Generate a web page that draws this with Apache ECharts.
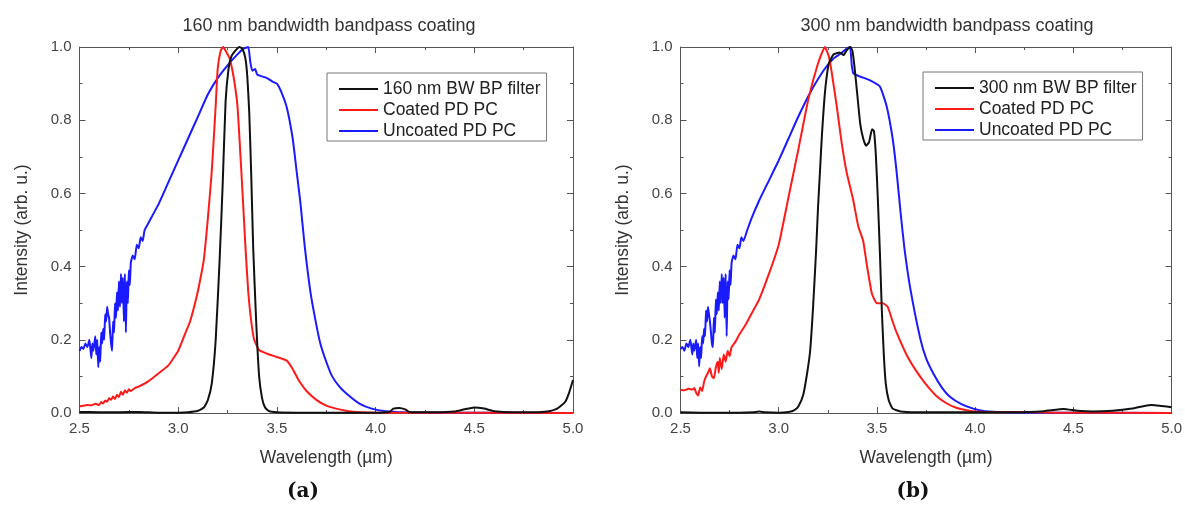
<!DOCTYPE html>
<html>
<head>
<meta charset="utf-8">
<script src="https://cdn.jsdelivr.net/npm/echarts@6/dist/echarts.min.js"></script>
<style>
html,body{margin:0;padding:0;background:#fff;}
#c{width:1185px;height:509px;}
</style>
</head>
<body>
<div id="c"></div>
<script>
// ---------- data ----------
const titles = ['160 nm bandwidth bandpass coating', '300 nm bandwidth bandpass coating'];
const captions = ['a', 'b'];
const xTicks = [2.5, 3.0, 3.5, 4.0, 4.5, 5.0];
const yTicks = [0.0, 0.2, 0.4, 0.6, 0.8, 1.0];
const namesA = ['160 nm BW BP filter', 'Coated PD PC', 'Uncoated PD PC'];
const namesB = ['300 nm BW BP filter', 'Coated PD PC', 'Uncoated PD PC'];

// panel (a)
const filterA = [[2.5,0.003],[2.6,0.002],[2.7,0.002],[2.8,0.003],[2.9,0.001],[3.0,0.001],[3.05,0.002],[3.1,0.006],[3.13,0.015],[3.15,0.035],[3.17,0.08],[3.19,0.2],[3.21,0.42],[3.225,0.62],[3.24,0.85],[3.255,0.94],[3.27,0.975],[3.29,0.99],[3.31,1.0],[3.325,0.995],[3.34,0.97],[3.35,0.92],[3.36,0.82],[3.37,0.65],[3.38,0.45],[3.395,0.25],[3.41,0.1],[3.425,0.04],[3.44,0.015],[3.46,0.005],[3.5,0.002],[3.6,0.001],[4.0,0.001],[4.07,0.003],[4.09,0.012],[4.12,0.014],[4.15,0.01],[4.17,0.003],[4.3,0.002],[4.4,0.004],[4.45,0.01],[4.5,0.015],[4.55,0.012],[4.6,0.005],[4.7,0.002],[4.8,0.002],[4.87,0.004],[4.92,0.012],[4.96,0.03],[4.98,0.055],[5.0,0.09]];
const coatedA = [[2.5,0.018],[2.52,0.02],[2.54,0.022],[2.56,0.021],[2.58,0.025],[2.6,0.022],[2.61,0.03],[2.62,0.026],[2.63,0.034],[2.64,0.031],[2.65,0.04],[2.66,0.036],[2.67,0.045],[2.68,0.038],[2.69,0.05],[2.7,0.044],[2.71,0.058],[2.72,0.05],[2.73,0.062],[2.74,0.055],[2.75,0.065],[2.76,0.06],[2.78,0.068],[2.8,0.072],[2.85,0.087],[2.9,0.108],[2.95,0.13],[3.0,0.17],[3.03,0.21],[3.06,0.25],[3.09,0.31],[3.11,0.36],[3.13,0.42],[3.15,0.53],[3.17,0.66],[3.19,0.84],[3.2,0.94],[3.215,0.99],[3.228,1.0],[3.245,0.985],[3.26,0.97],[3.28,0.92],[3.3,0.84],[3.32,0.66],[3.34,0.46],[3.355,0.33],[3.37,0.25],[3.385,0.2],[3.41,0.172],[3.45,0.162],[3.5,0.153],[3.55,0.143],[3.58,0.12],[3.61,0.09],[3.65,0.06],[3.7,0.036],[3.75,0.02],[3.8,0.012],[3.85,0.006],[3.9,0.003],[4.0,0.001],[5.0,0.0]];
const uncoatedA = [[2.5,0.17],[2.51,0.18],[2.52,0.175],[2.53,0.19],[2.54,0.18],[2.55,0.2],[2.56,0.15],[2.565,0.19],[2.57,0.17],[2.58,0.21],[2.585,0.16],[2.59,0.2],[2.595,0.125],[2.6,0.18],[2.605,0.14],[2.61,0.22],[2.615,0.19],[2.62,0.23],[2.625,0.2],[2.63,0.27],[2.635,0.25],[2.64,0.29],[2.645,0.27],[2.65,0.26],[2.655,0.22],[2.66,0.19],[2.665,0.17],[2.67,0.25],[2.675,0.22],[2.68,0.3],[2.685,0.26],[2.69,0.33],[2.695,0.28],[2.7,0.36],[2.705,0.29],[2.71,0.38],[2.715,0.3],[2.72,0.37],[2.725,0.25],[2.73,0.38],[2.735,0.22],[2.74,0.36],[2.745,0.3],[2.75,0.39],[2.755,0.35],[2.76,0.41],[2.77,0.43],[2.78,0.42],[2.79,0.46],[2.8,0.45],[2.81,0.48],[2.82,0.47],[2.83,0.5],[2.85,0.52],[2.87,0.54],[2.9,0.57],[2.95,0.63],[3.0,0.69],[3.05,0.75],[3.1,0.81],[3.15,0.87],[3.2,0.915],[3.25,0.95],[3.3,0.98],[3.33,0.995],[3.355,1.0],[3.365,0.96],[3.375,0.935],[3.39,0.94],[3.4,0.925],[3.45,0.915],[3.48,0.905],[3.5,0.9],[3.52,0.88],[3.55,0.835],[3.58,0.75],[3.6,0.66],[3.62,0.57],[3.64,0.46],[3.67,0.33],[3.7,0.24],[3.72,0.19],[3.75,0.14],[3.78,0.1],[3.82,0.07],[3.87,0.045],[3.92,0.025],[3.98,0.012],[4.05,0.005],[4.15,0.002],[4.3,0.001],[5.0,0.0]];

// panel (b)
const filterB = [[2.5,0.002],[2.6,0.001],[2.7,0.001],[2.8,0.001],[2.87,0.002],[2.9,0.004],[2.93,0.002],[3.0,0.001],[3.05,0.003],[3.08,0.008],[3.1,0.018],[3.125,0.05],[3.145,0.11],[3.16,0.17],[3.175,0.29],[3.19,0.44],[3.2,0.56],[3.21,0.66],[3.22,0.76],[3.23,0.84],[3.24,0.9],[3.255,0.955],[3.28,0.98],[3.31,0.985],[3.33,0.978],[3.345,0.99],[3.365,1.0],[3.375,0.99],[3.385,0.95],[3.4,0.87],[3.415,0.79],[3.43,0.75],[3.445,0.73],[3.46,0.74],[3.475,0.775],[3.485,0.77],[3.495,0.7],[3.505,0.58],[3.515,0.44],[3.525,0.28],[3.535,0.16],[3.545,0.08],[3.56,0.035],[3.58,0.012],[3.62,0.004],[3.7,0.002],[4.0,0.002],[4.2,0.002],[4.35,0.005],[4.45,0.011],[4.52,0.006],[4.6,0.004],[4.7,0.006],[4.8,0.012],[4.85,0.018],[4.9,0.022],[4.95,0.019],[5.0,0.016]];
const coatedB = [[2.5,0.063],[2.52,0.062],[2.54,0.066],[2.56,0.064],[2.57,0.068],[2.58,0.055],[2.59,0.048],[2.6,0.07],[2.61,0.06],[2.62,0.085],[2.63,0.1],[2.64,0.11],[2.65,0.122],[2.66,0.1],[2.67,0.095],[2.68,0.125],[2.69,0.14],[2.695,0.11],[2.7,0.15],[2.71,0.12],[2.72,0.16],[2.73,0.14],[2.74,0.17],[2.75,0.155],[2.76,0.18],[2.78,0.195],[2.8,0.215],[2.83,0.24],[2.86,0.27],[2.9,0.31],[2.95,0.38],[3.0,0.46],[3.05,0.59],[3.1,0.72],[3.15,0.855],[3.2,0.955],[3.235,1.0],[3.255,0.975],[3.27,0.93],[3.295,0.84],[3.32,0.74],[3.345,0.66],[3.38,0.58],[3.405,0.51],[3.43,0.47],[3.45,0.4],[3.475,0.325],[3.5,0.3],[3.53,0.3],[3.555,0.29],[3.58,0.25],[3.6,0.22],[3.65,0.16],[3.7,0.115],[3.75,0.078],[3.8,0.048],[3.85,0.028],[3.9,0.015],[3.95,0.008],[4.0,0.004],[4.1,0.002],[4.25,0.003],[4.4,0.001],[5.0,0.0]];
const uncoatedB = [[2.5,0.175],[2.51,0.18],[2.52,0.17],[2.53,0.19],[2.54,0.18],[2.55,0.2],[2.56,0.16],[2.565,0.19],[2.57,0.17],[2.58,0.2],[2.585,0.15],[2.59,0.19],[2.595,0.127],[2.6,0.18],[2.605,0.15],[2.61,0.21],[2.615,0.19],[2.62,0.23],[2.625,0.21],[2.63,0.28],[2.635,0.25],[2.64,0.29],[2.645,0.27],[2.65,0.25],[2.655,0.22],[2.66,0.19],[2.665,0.18],[2.67,0.26],[2.675,0.22],[2.68,0.31],[2.685,0.27],[2.69,0.33],[2.695,0.28],[2.7,0.36],[2.705,0.3],[2.71,0.38],[2.715,0.3],[2.72,0.37],[2.725,0.26],[2.73,0.38],[2.735,0.21],[2.74,0.36],[2.745,0.31],[2.75,0.39],[2.755,0.35],[2.76,0.41],[2.77,0.43],[2.78,0.42],[2.79,0.46],[2.8,0.45],[2.81,0.48],[2.82,0.47],[2.84,0.5],[2.86,0.53],[2.9,0.58],[2.95,0.635],[3.0,0.69],[3.05,0.75],[3.1,0.81],[3.16,0.875],[3.23,0.937],[3.28,0.969],[3.31,0.98],[3.345,0.995],[3.363,1.0],[3.372,0.95],[3.38,0.928],[3.41,0.92],[3.46,0.91],[3.515,0.892],[3.55,0.837],[3.58,0.75],[3.6,0.66],[3.62,0.55],[3.64,0.45],[3.67,0.34],[3.72,0.205],[3.75,0.15],[3.79,0.105],[3.83,0.07],[3.87,0.045],[3.93,0.024],[3.99,0.012],[4.05,0.005],[4.15,0.002],[4.3,0.001],[5.0,0.0]];

const colors = ['#111111', '#ff1a1a', '#1a1aff'];

// ---------- layout ----------
const grids = [
  {left: 79.5, top: 47, width: 493.5, height: 366},
  {left: 680.5, top: 47, width: 491.5, height: 366}
];
const FONT = 'Liberation Sans, Arial, sans-serif';
const axisLineStyle = {color: '#555', width: 1};

function xAxisDef(gi, primary) {
  return {
    type: 'value', gridIndex: gi, min: xTicks[0], max: xTicks[xTicks.length - 1], interval: 0.5,
    position: primary ? 'bottom' : 'top',
    name: primary ? 'Wavelength (µm)' : '', nameLocation: 'middle', nameGap: 36,
    nameTextStyle: {fontFamily: FONT, fontSize: 17.5, color: '#333'},
    axisLine: {show: true, onZero: false, lineStyle: axisLineStyle},
    axisTick: {show: true, inside: true, length: 6, lineStyle: axisLineStyle},
    minorTick: {show: true, splitNumber: 2, length: 3, lineStyle: axisLineStyle},
    axisLabel: {show: primary, fontFamily: FONT, fontSize: 15, color: '#444', margin: 8,
      formatter: v => v.toFixed(1)},
    splitLine: {show: false}
  };
}
function yAxisDef(gi, primary) {
  return {
    type: 'value', gridIndex: gi, min: yTicks[0], max: yTicks[yTicks.length - 1], interval: 0.2,
    position: primary ? 'left' : 'right',
    name: primary ? 'Intensity (arb. u.)' : '', nameLocation: 'middle', nameGap: 48,
    nameTextStyle: {fontFamily: FONT, fontSize: 17.5, color: '#333'},
    axisLine: {show: true, onZero: false, lineStyle: axisLineStyle},
    axisTick: {show: true, inside: true, length: 6, lineStyle: axisLineStyle},
    minorTick: {show: true, splitNumber: 2, length: 3, lineStyle: axisLineStyle},
    axisLabel: {show: primary, fontFamily: FONT, fontSize: 15, color: '#444', margin: 8,
      formatter: v => v.toFixed(1)},
    splitLine: {show: false}
  };
}

function lineSeries(name, data, gi, ci) {
  return {
    type: 'line', name: name, data: data, xAxisIndex: gi * 2, yAxisIndex: gi * 2,
    showSymbol: false, symbol: 'none', animation: false, smooth: 0.15,
    lineStyle: {color: colors[ci], width: 2}, itemStyle: {color: colors[ci]}, z: 3 - ci
  };
}

function legendDef(names, left, top) {
  return {
    data: names, left: left, top: top, orient: 'vertical',
    icon: 'rect', itemWidth: 39, itemHeight: 2, itemGap: 3,
    borderColor: '#777', borderWidth: 1, padding: [7, 6, 1, 12],
    textStyle: {fontFamily: FONT, fontSize: 17.5, color: '#222', lineHeight: 17},
    selectedMode: false
  };
}

const option = {
  backgroundColor: '#fff',
  animation: false,
  title: [
    {text: titles[0], left: 324, top: 12, textAlign: 'center',
      textStyle: {fontFamily: FONT, fontSize: 18, fontWeight: 'normal', color: '#333'}},
    {text: titles[1], left: 942, top: 12, textAlign: 'center',
      textStyle: {fontFamily: FONT, fontSize: 18, fontWeight: 'normal', color: '#333'}},
    {text: '{p|(}{b|' + captions[0] + '}{p|)}', left: 298, top: 477, textAlign: 'center',
      textStyle: {rich: {p: {fontFamily: 'DejaVu Serif, serif', fontSize: 20, color: '#111'},
        b: {fontFamily: 'DejaVu Serif, serif', fontSize: 20, fontWeight: 'bold', color: '#111'}}}},
    {text: '{p|(}{b|' + captions[1] + '}{p|)}', left: 908, top: 477, textAlign: 'center',
      textStyle: {rich: {p: {fontFamily: 'DejaVu Serif, serif', fontSize: 20, color: '#111'},
        b: {fontFamily: 'DejaVu Serif, serif', fontSize: 20, fontWeight: 'bold', color: '#111'}}}}
  ],
  legend: [legendDef(namesA, 327, 73), legendDef(namesB, 923, 72)],
  grid: grids,
  xAxis: [xAxisDef(0, true), xAxisDef(0, false), xAxisDef(1, true), xAxisDef(1, false)],
  yAxis: [yAxisDef(0, true), yAxisDef(0, false), yAxisDef(1, true), yAxisDef(1, false)],
  series: [
    lineSeries(namesA[2], uncoatedA, 0, 2),
    lineSeries(namesA[1], coatedA, 0, 1),
    lineSeries(namesA[0], filterA, 0, 0),
    lineSeries(namesB[2], uncoatedB, 1, 2),
    lineSeries(namesB[1], coatedB, 1, 1),
    lineSeries(namesB[0], filterB, 1, 0)
  ]
};

const chart = echarts.init(document.getElementById('c'), null, {renderer: 'canvas'});
chart.setOption(option);
</script>
</body>
</html>
